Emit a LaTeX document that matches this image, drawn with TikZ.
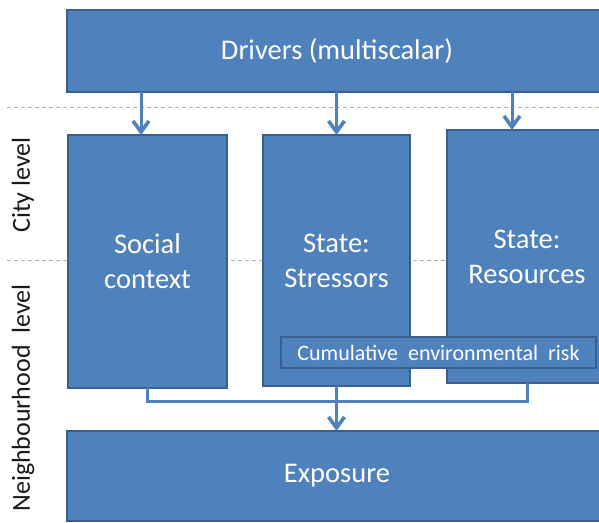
\documentclass[tikz,border=0pt]{standalone}
\usepackage{fontspec}
\setmainfont{Carlito}
\usetikzlibrary{arrows.meta}
\definecolor{boxblue}{HTML}{4F81BD}
\definecolor{boxline}{HTML}{3A5F8C}
\definecolor{guide}{HTML}{B5B093}

\begin{document}
\begin{tikzpicture}[x=1pt, y=-1pt,
    box/.style={rectangle, draw=boxline, line width=1.8pt, fill=boxblue, text=white, inner sep=0pt, outer sep=0pt, align=center, font=\fontsize{28.5}{35}\selectfont},
    link/.style={draw=boxblue, line width=3pt},
    >={Straight Barb[length=11pt, width=16pt, line width=3.6pt]},
    scalelabel/.style={rotate=90, text=black!90, font=\fontsize{26}{30}\selectfont}]

    \useasboundingbox (0,0) rectangle (599,522);
    \clip (0,0) rectangle (599,522);

    \draw[guide, dashed, line width=0.8pt, dash pattern=on 4pt off 3pt] (7,107) -- (599,107);
    \draw[guide, dashed, line width=0.8pt, dash pattern=on 4pt off 3pt] (7,260) -- (599,260);

    \node[scalelabel] (city) at (23,185) {City level};
    \node[scalelabel] (neighbourhood) at (23,398) {Neighbourhood\ \ level};

    \node[box, minimum width=540pt, minimum height=82pt] (drivers) at (337,51) {Drivers (multiscalar)};
    \node[box, minimum width=159pt, minimum height=253pt] (social) at (147.5,261.5) {Social\\context};
    \node[box, minimum width=147pt, minimum height=251pt] (stressors) at (336.5,260.5) {State:\\Stressors};
    \node[box, minimum width=160pt, minimum height=253pt] (resources) at (527,256.5) {State:\\Resources};
    \node[box, minimum width=315pt, minimum height=31pt, font=\fontsize{22}{26}\selectfont] (risk) at (438.5,352.5) {Cumulative~ environmental~ risk};
    \node[box, minimum width=540pt, minimum height=90pt] (exposure) at (337,476) {Exposure};

    \coordinate (join) at (stressors.south |- 0,401);

    \draw[link, ->] (drivers.south -| 141,0) -- (social.north -| 141,0);
    \draw[link, ->] (drivers.south -| 336.5,0) -- (stressors.north);
    \draw[link, ->] (drivers.south -| 512,0) -- (resources.north -| 512,0);
    \draw[link] (social.south) |- (join);
    \draw[link] (resources.south) |- (join);
    \draw[link, ->] (stressors.south) -- (exposure.north -| stressors.south);
\end{tikzpicture}
\end{document}
